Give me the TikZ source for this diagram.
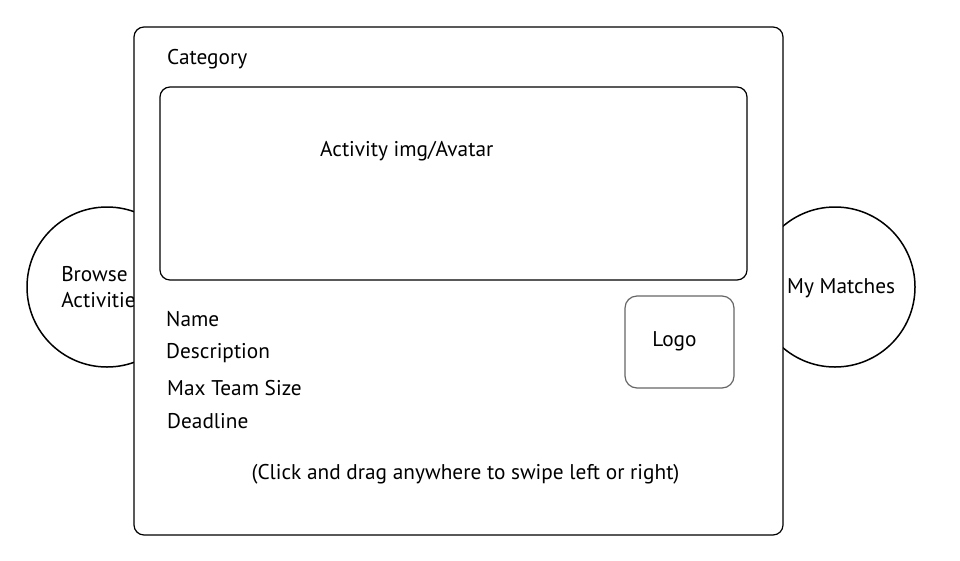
\documentclass[tikz,border=0pt]{standalone}
\usepackage{fontspec}
\setmainfont{PT Sans}
\usepackage{tikz}

\begin{document}
\begin{tikzpicture}[x=1pt,y=-1pt,
  every node/.style={font=\fontsize{21.3}{25}\selectfont},
  navcircle/.style={draw,circle,line width=1.5pt,minimum size=160pt,inner sep=0pt},
  panel/.style={draw,rounded corners=10pt,line width=1.2pt,fill=white,inner sep=0pt},
  label/.style={anchor=west,inner sep=0pt}]
  \useasboundingbox (0,0) rectangle (960,560);
  % side buttons, partly hidden behind the card
  \node[navcircle,align=left] (browse) at (107,287) {\hspace*{-8pt}Browse\\[1pt]\hspace*{-8pt}Activities};
  \node[navcircle] (matches) at (835,287) {};
  % card
  \node[panel,minimum width=649pt,minimum height=508pt] (card) at (458.5,281) {};
  \node[label] (matchtext) at (787,288) {My Matches};
  \node[label] (category) at (167,59) {Category};
  \node[panel,minimum width=587pt,minimum height=193pt] (avatar) at (453.5,183.5) {};
  \node[label] (avatartext) at (320,151) {Activity img/Avatar};
  \node[label] (name) at (166,319) {Name};
  \node[label] (desc) at (166,353) {Description};
  \node[label] (teamsize) at (167,388) {Max Team Size};
  \node[label] (deadline) at (167,421) {Deadline};
  \node[panel,draw=black!60,rounded corners=12pt,minimum width=109pt,minimum height=92pt] (logo) at (679.5,342) {};
  \node (logotext) at (674.5,341) {Logo};
  \node (hint) at (465.5,474) {(Click and drag anywhere to swipe left or right)};
\end{tikzpicture}
\end{document}
